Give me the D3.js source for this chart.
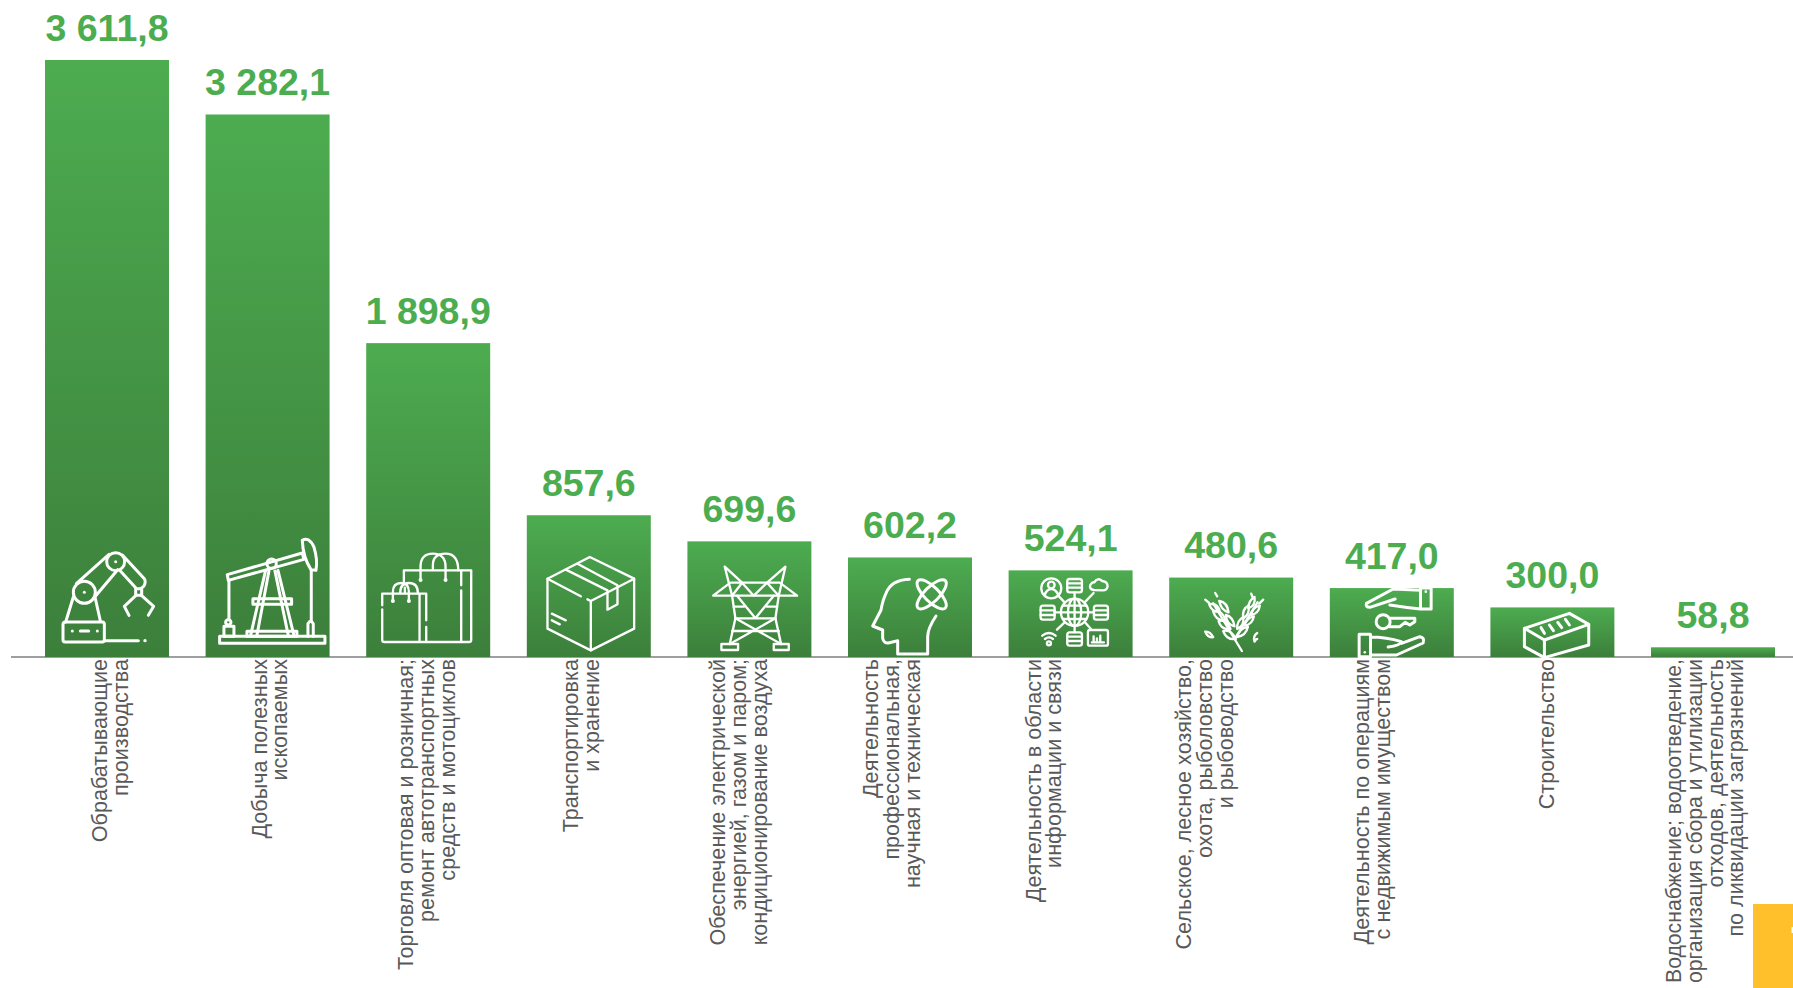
<!doctype html>
<html>
<head>
  <meta charset='utf-8'>
  <style>
    html, body { margin: 0; padding: 0; background: #fff; overflow: hidden; }
    svg { display: block; }
    text { font-family: 'Liberation Sans', Arial, sans-serif; }
    .value { font-size: 37.5px; font-weight: bold; fill: #4cad50; text-anchor: middle; }
    .cat { font-size: 21.6px; fill: #595959; text-anchor: end; }
    .icon path, .icon circle, .icon ellipse, .icon rect {
      fill: none; stroke: #fff; stroke-width: 9; stroke-linecap: round; stroke-linejoin: round;
    }
    .icon .thin path, .icon .thin circle, .icon .thin rect, .icon .thin ellipse { stroke-width: 7; }
    .icon .dot { fill: #fff; stroke: none; }
  </style>
</head>
<body>
  <svg width='1793' height='988'></svg>
  <script src='https://d3js.org/d3.v7.min.js'></script>
  <script>
    var categories = ['mfg', 'mining', 'trade', 'transport', 'power', 'science',
                      'it', 'agri', 'realty', 'build', 'water'];
    var values = [3611.8, 3282.1, 1898.9, 857.6, 699.6, 602.2, 524.1, 480.6, 417.0, 300.0, 58.8];
    var categoryLines = [
      ['Обрабатывающие', 'производства'],
      ['Добыча полезных', 'ископаемых'],
      ['Торговля оптовая и розничная;', 'ремонт автотранспортных', 'средств и мотоциклов'],
      ['Транспортировка', 'и хранение'],
      ['Обеспечение электрической', 'энергией, газом и паром;', 'кондиционирование воздуха'],
      ['Деятельность', 'профессиональная,', 'научная и техническая'],
      ['Деятельность в области', 'информации и связи'],
      ['Сельское, лесное хозяйство,', 'охота, рыболовство', 'и рыбоводство'],
      ['Деятельность по операциям', 'с недвижимым имуществом'],
      ['Строительство'],
      ['Водоснабжение; водоотведение,', 'организация сбора и утилизации', 'отходов, деятельность', 'по ликвидации загрязнений']
    ];

    // first label baseline relative to the middle of the bar
    var labelShift = [0, -1, -15, -10.5, -24, -32, -30, -40, -22.5, 2, -32];
    var lineStep = 20.8;
    var maxLabelLength = 324; // room between axis and page bottom

    // icons are drawn at 3x, dx/dy is where bar left / baseline fall in that grid
    var icons = {
      mfg: { dx: 0, dy: 380, svg:
        '<path d="M62 275H172Q178 275 178 282V328Q178 335 172 335H60Q54 335 54 328V282Q54 275 62 275Z"/>' +
        '<path d="M178 331H280"/><circle class="dot" cx="300" cy="331" r="5"/>' +
        '<circle class="dot" cx="82" cy="302" r="4.5"/><circle class="dot" cx="157" cy="302" r="4.5"/><path d="M106 302H131"/>' +
        '<path d="M62 275L85 200M166 272L150 200"/>' +
        '<circle cx="118" cy="186" r="33"/><circle class="dot" cx="118" cy="186" r="4.5"/>' +
        '<path d="M94 160L192 72M146 204L218 118"/>' +
        '<circle cx="212" cy="94" r="27"/><circle class="dot" cx="212" cy="94" r="4.5"/>' +
        '<path d="M232 74L298 145Q304 155 296 168L288 174M224 120L272 172"/>' +
        '<rect x="272" y="175" width="18" height="20"/>' +
        '<path d="M272 196L238 228L252 255M290 196L326 228L310 255"/>' },
      mining: { dx: 480, dy: 380, svg:
        '<path d="M545 133L770 68L775 87L548 150Z"/>' +
        '<path d="M770 30Q790 18 805 50Q817 90 811 120L796 118Q772 80 770 30Z"/>' +
        '<circle cx="678" cy="100" r="14"/>' +
        '<path d="M550 150V266"/><circle cx="548" cy="276" r="8"/><rect x="535" y="288" width="30" height="30"/>' +
        '<path d="M797 122V270"/><path d="M787 318V280Q795 266 803 280V318"/>' +
        '<path d="M660 120L615 315M697 120L745 315M670 122L634 315M688 122L728 315"/>' +
        '<rect x="622" y="205" width="116" height="17"/>' +
        '<rect x="604" y="303" width="150" height="15"/>' +
        '<rect x="522" y="318" width="316" height="21"/>' },
      trade: { dx: 0, dy: 380, svg:
        '<g class="thin">' +
        '<path d="M113 155V120H315V328Q315 335 308 335H182M285 122V165M285 180V332M180 290V335"/>' +
        '<path d="M163 148V110Q163 70 200 70Q238 70 238 110V148"/>' +
        '<path d="M200 118V105Q200 70 238 70Q276 70 276 120"/>' +
        '<path d="M48 225V190H180V270M48 237V328Q48 335 55 335H178M160 190V335"/>' +
        '<path d="M80 210V185Q80 158 105 158Q128 158 128 185V210"/>' +
        '<path d="M102 188Q102 158 128 158Q155 158 155 188M116 172V188"/>' +
        '</g>' +
        '<circle class="dot" cx="163" cy="149" r="6"/><circle class="dot" cx="238" cy="149" r="6"/>' +
        '<circle class="dot" cx="80" cy="212" r="6"/><circle class="dot" cx="128" cy="212" r="6"/>' },
      transport: { dx: 483, dy: 380, svg:
        '<g class="thin">' +
        '<path d="M672 80L805 145V295L675 360L545 295V145Z"/>' +
        '<path d="M545 145L645 198M665 207L675 212L805 145M675 212V360"/>' +
        '<path d="M600 118L725 180V238L755 222V165L635 100"/>' +
        '<path d="M558 250L600 270M558 270L582 282"/>' +
        '</g>' },
      power: { dx: -9, dy: 321, svg:
        '<g class="thin">' +
        '<path d="M68 137H320L268 98H120Z"/>' +
        '<path d="M125 137L103 50L155 98L190 137L230 98L285 50L265 137L230 98M155 98L125 137"/>' +
        '<path d="M125 137L135 205L118 282M265 137L255 205L272 282"/>' +
        '<path d="M135 205H255M140 137L195 205L250 137M130 170H160M230 170H260"/>' +
        '<path d="M135 205L272 282M255 205L118 282M125 243H265"/>' +
        '<rect x="93" y="282" width="50" height="18"/><rect x="250" y="282" width="45" height="18"/>' +
        '</g>' },
      science: { dx: 471, dy: 321, svg:
        '<path d="M655 88Q600 90 585 130Q575 150 570 180L545 228L575 240V265Q578 282 595 278L620 272V312H710V260Q710 235 735 198"/>' +
        '<ellipse cx="722" cy="133" rx="58" ry="22" transform="rotate(45 722 133)"/>' +
        '<ellipse cx="722" cy="133" rx="58" ry="22" transform="rotate(-45 722 133)"/>' },
      it: { dx: -3, dy: 276, svg:
        '<g class="thin">' +
        '<circle cx="195" cy="142" r="41"/><ellipse cx="195" cy="142" rx="20" ry="41"/>' +
        '<path d="M195 101V183M154 142H236M160 122H230M160 162H230"/>' +
        '<circle cx="125" cy="70" r="30"/><circle cx="125" cy="60" r="10"/><path d="M105 90Q112 72 125 72Q138 72 146 90"/>' +
        '<path d="M146 92L165 112M195 82V101M225 112L252 84"/>' +
        '<rect x="173" y="42" width="44" height="40" rx="7"/><path d="M173 55H217M173 68H217"/>' +
        '<path d="M252 75Q238 72 242 60Q248 50 254 52Q264 36 278 48Q294 50 294 64Q292 76 280 76Z"/>' +
        '<rect x="93" y="122" width="42" height="42" rx="7"/><path d="M93 136H135M93 150H135M135 142H154"/>' +
        '<rect x="253" y="122" width="42" height="42" rx="7"/><path d="M253 136H295M253 150H295M236 142H253"/>' +
        '<rect x="173" y="202" width="44" height="40" rx="7"/><path d="M173 215H217M173 228H217M195 183V202"/>' +
        '<path d="M165 172L142 194M226 172L244 192"/>' +
        '<rect x="235" y="195" width="60" height="47" rx="6"/><path d="M247 232H283M252 230V214M262 230V220M272 230V212"/>' +
        '<path d="M98 212Q118 196 138 212M106 222Q118 212 130 222"/><circle cx="118" cy="235" r="6"/>' +
        '</g>' },
      agri: { dx: 480, dy: 276, svg:
        '<g class="thin">' +
        '<path d="M698 258L676 222L612 115M676 222L745 112"/>' +
        '<path d="M600 118Q625 112 632 140Q608 142 600 118Z"/>' +
        '<path d="M612 140Q638 132 648 165Q622 170 612 140Z"/>' +
        '<path d="M628 168Q652 160 664 192Q636 196 628 168Z"/>' +
        '<path d="M642 198Q665 192 680 222Q652 226 642 198Z"/>' +
        '<path d="M630 108Q655 112 658 142Q636 136 630 108Z"/>' +
        '<path d="M650 150Q672 156 676 184Q652 178 650 150Z"/>' +
        '<path d="M736 96Q716 108 718 130Q740 122 736 96Z"/>' +
        '<path d="M718 122Q698 132 702 160Q722 150 718 122Z"/>' +
        '<path d="M702 156Q682 168 684 192Q706 182 702 156Z"/>' +
        '<path d="M752 122Q730 126 726 150Q748 146 752 122Z"/>' +
        '<path d="M734 154Q712 158 706 182Q730 178 734 154Z"/>' +
        '<path d="M716 186Q692 188 684 216Q710 212 716 186Z"/>' +
        '<path d="M588 200Q602 198 612 216Q596 220 588 200Z"/>' +
        '<path d="M744 204Q730 214 736 230Q740 222 744 222"/>' +
        '<path d="M618 84L624 94M588 104L600 114M762 104L750 116M726 86L730 96"/>' +
        '</g>' },
      realty: { dx: 0, dy: 246, svg:
        '<path d="M110 85Q106 97 120 97L196 72M180 90Q230 98 272 102H304V39H272V102M272 46L190 42L110 85"/>' +
        '<circle class="dot" cx="288" cy="50" r="4"/>' +
        '<circle cx="160" cy="140" r="21"/><path d="M180 130H255V140L240 150L226 142L210 155H180"/>' +
        '<path d="M88 178H122V245H88ZM122 186Q170 186 215 200Q212 212 175 216M215 205L270 185Q286 188 280 204L200 240H122"/>' +
        '<circle class="dot" cx="105" cy="232" r="4"/>' },
      build: { dx: 483, dy: 246, svg:
        '<path d="M585 160L720 115L778 148L645 195ZM585 160V215L645 248L778 210V148M645 195V248"/>' +
        '<path d="M635 158L645 175M660 150L672 167M685 142L697 158M708 133L720 150"/>' },
      water: { dx: 0, dy: 0, svg: '' }
    };

    var width = 1793;
    var height = 988;
    var svg = d3.select('svg');

    var x = d3.scaleBand()
      .domain(categories)
      .range([26.7, 1793.3])
      .paddingInner(0.228)
      .paddingOuter(0.114);
    var y = d3.scaleLinear().domain([0, 3611.8]).range([657, 60]);

    var fmt = d3.formatLocale({ decimal: ',', thousands: ' ', grouping: [3], currency: ['', ''] }).format(',.1f');

    var defs = svg.append('defs');
    var grad = defs.append('linearGradient')
      .attr('id', 'barFill')
      .attr('x1', 0).attr('y1', 0).attr('x2', 0).attr('y2', 1);
    grad.append('stop').attr('offset', '0%').attr('stop-color', '#4dac50');
    grad.append('stop').attr('offset', '100%').attr('stop-color', '#3c7f3b');

    svg.append('rect')
      .attr('x', 0).attr('y', 0)
      .attr('width', width).attr('height', height)
      .attr('fill', '#fff');

    // baseline
    svg.append('line')
      .attr('x1', 11).attr('x2', width)
      .attr('y1', y(0)).attr('y2', y(0))
      .attr('stroke', '#7f7f7f')
      .attr('stroke-width', 1.5);

    var bar = svg.selectAll('.bar')
      .data(categories)
      .enter().append('g')
      .attr('class', 'bar');

    bar.append('rect')
      .attr('x', function(d) { return x(d); })
      .attr('y', function(d, i) { return y(values[i]); })
      .attr('width', x.bandwidth())
      .attr('height', function(d, i) { return y(0) - y(values[i]); })
      .attr('fill', 'url(#barFill)');

    bar.append('text')
      .attr('class', 'value')
      .attr('x', function(d) { return x(d) + x.bandwidth() / 2; })
      .attr('y', function(d, i) { return y(values[i]) - 19.5; })
      .text(function(d, i) { return fmt(values[i]); });

    // category labels, rotated, line ends sit on the axis
    bar.each(function(d, i) {
      var cx = x(d) + x.bandwidth() / 2 + labelShift[i];
      var g = d3.select(this);
      categoryLines[i].forEach(function(line, k) {
        var t = g.append('text')
          .attr('class', 'cat')
          .attr('transform', 'translate(' + (cx + k * lineStep) + ',' + (y(0) + 2) + ') rotate(-90)')
          .text(line);
        if (t.node().getComputedTextLength() > maxLabelLength) {
          t.attr('textLength', maxLabelLength).attr('lengthAdjust', 'spacingAndGlyphs');
        }
      });
    });

    bar.append('g')
      .attr('class', 'icon')
      .attr('transform', function(d) {
        return 'translate(' + x(d) + ',' + y(0) + ') scale(' + 1 / 3 + ') translate(' + (-icons[d].dx) + ',' + (-icons[d].dy) + ')';
      })
      .html(function(d) { return icons[d].svg; });

    // corner tab of the slide
    svg.append('rect')
      .attr('x', 1753).attr('y', 904)
      .attr('width', 40).attr('height', 84)
      .attr('fill', '#ffc02b');
    svg.append('rect')
      .attr('x', 1791.5).attr('y', 927)
      .attr('width', 1.5).attr('height', 6)
      .attr('fill', '#fff');
  </script>
</body>
</html>
